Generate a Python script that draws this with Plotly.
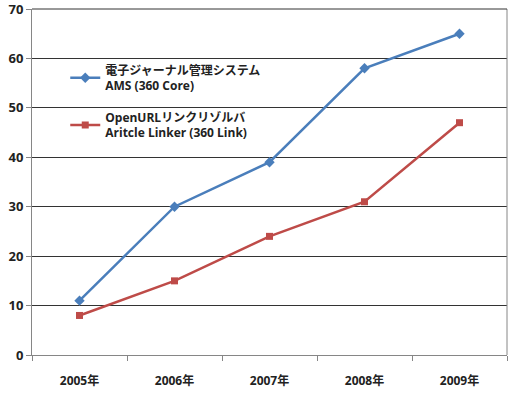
import plotly.graph_objects as go

years = ["2005年", "2006年", "2007年", "2008年", "2009年"]
ams_values = [11, 30, 39, 58, 65]
linker_values = [8, 15, 24, 31, 47]
ams_name = "<b>電子ジャーナル管理システム</b><br><b>AMS (360 Core)</b>"
linker_name = "<b>OpenURLリンクリゾルバ</b><br><b>Aritcle Linker (360 Link)</b>"

font_family = "Open Sans, Noto Sans CJK JP, sans-serif"

fig = go.Figure()
fig.add_trace(go.Scatter(
    x=years, y=ams_values, name=ams_name, mode="lines+markers", legendgroup="a",
    line=dict(color="#4A7EBB", width=2.5),
    marker=dict(symbol="diamond", size=8, color="#4A7EBB"),
))
fig.add_trace(go.Scatter(
    x=years, y=linker_values, name=linker_name, mode="lines+markers", legendgroup="b",
    line=dict(color="#BE4B48", width=2.5),
    marker=dict(symbol="square", size=7, color="#BE4B48"),
))

fig.update_layout(
    width=511, height=401,
    margin=dict(l=32, r=4, t=9, b=46),
    paper_bgcolor="white", plot_bgcolor="white",
    font=dict(family=font_family, size=12, color="#222222"),
    showlegend=True,
    legend=dict(
        x=0.07, y=0.865, xanchor="left", yanchor="top", traceorder="grouped",
        bgcolor="rgba(0,0,0,0)", font=dict(size=12, color="#222222"),
        tracegroupgap=13, itemwidth=30,
    ),
    xaxis=dict(
        type="category", tickson="boundaries", ticks="outside", ticklen=5,
        tickcolor="#868686", showline=True, linecolor="#868686", linewidth=1,
        mirror=False, showgrid=False, tickfont=dict(size=12, color="#222222"),
        range=[-0.5, 4.5], tickprefix="<b>", ticksuffix="</b>",
        ticklabelstandoff=15, automargin=False,
    ),
    yaxis=dict(
        range=[0, 70], dtick=10, ticks="outside", ticklen=5, tickcolor="#868686",
        showline=True, linecolor="#868686", linewidth=1,
        showgrid=True, gridcolor="#333333", gridwidth=1,
        tickfont=dict(size=13, color="#222222"), zeroline=False,
        tickprefix="<b>", ticksuffix="</b>", ticklabeloverflow="allow",
        automargin=False,
    ),
)
# right border and top gridline of plot area
fig.add_shape(type="line", xref="paper", yref="paper", x0=1, x1=1, y0=0, y1=1,
              line=dict(color="#868686", width=1))
fig.add_shape(type="line", xref="paper", yref="paper", x0=0, x1=1, y0=1, y1=1,
              line=dict(color="#333333", width=1))

fig.write_html("out.html")
